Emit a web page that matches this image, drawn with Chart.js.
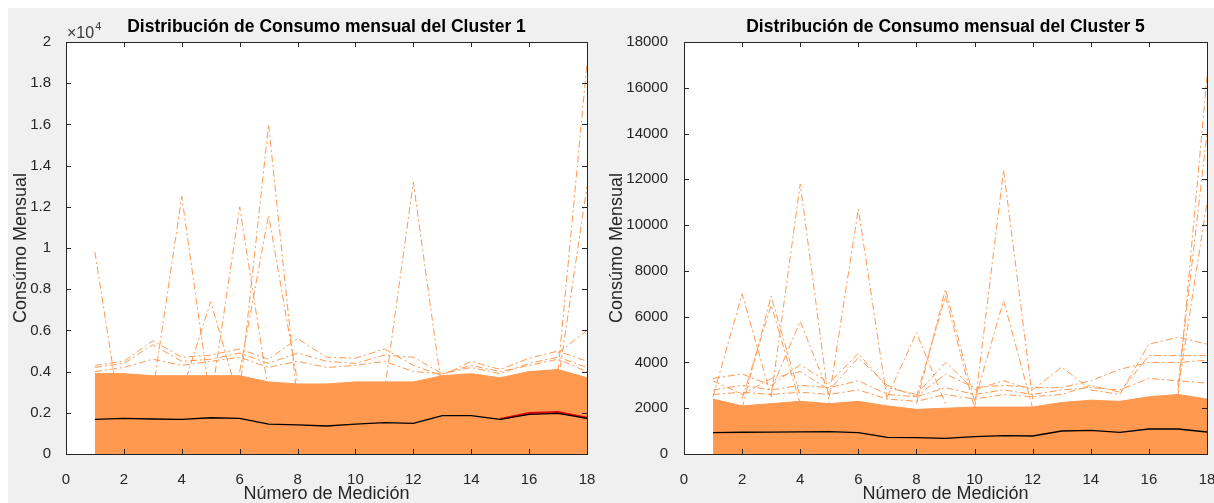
<!DOCTYPE html>
<html>
<head>
<meta charset="utf-8">
<script src="https://cdn.jsdelivr.net/npm/chart.js@4.4.0/dist/chart.umd.min.js"></script>
<style>
  html, body { margin: 0; padding: 0; background: #fff; overflow: hidden; }
  body { width: 1214px; height: 503px; position: relative; }
  #bg { position: absolute; left: 8px; top: 8px; width: 1206px; height: 495px; background: #f0f0f0; }
  #c1 { position: absolute; left: 8px; top: 8px; }
  #c5 { position: absolute; left: 606px; top: 8px; }
</style>
</head>
<body>
<div id="bg"></div>
<canvas id="c1" width="588" height="495"></canvas>
<canvas id="c5" width="608" height="495"></canvas>
<script>
// numero de medicion
const mediciones = [1, 2, 3, 4, 5, 6, 7, 8, 9, 10, 11, 12, 13, 14, 15, 16, 17, 18];
const xTickLabels = ['0', '2', '4', '6', '8', '10', '12', '14', '16', '18'];
const yTickLabels1 = ['0', '0.2', '0.4', '0.6', '0.8', '1', '1.2', '1.4', '1.6', '1.8', '2'];
const yTickLabels5 = ['0', '2000', '4000', '6000', '8000', '10000', '12000', '14000', '16000', '18000'];

// ---- Cluster 1 ----
const media1 = [1680, 1730, 1700, 1680, 1760, 1730, 1455, 1410, 1360, 1455, 1520, 1490, 1860, 1860, 1680, 1925, 1975, 1730];
const rojo1 = [null, null, null, null, null, null, null, null, null, null, null, null, null, null, 1700, 1990, 2040, 1760];
const banda1 = [3900, 3900, 3800, 3800, 3800, 3800, 3500, 3400, 3400, 3500, 3500, 3500, 3800, 3900, 3700, 4000, 4100, 3700];
const sueltas1 = [
  [4300, 4500, 5500, 4700, 4800, 5100, 4600, 5600, 4700, 4650, 5100, 4300, 3800, 4500, 4100, 4650, 5000, 4500],
  [4200, 4400, 5300, 4500, 4600, 4900, 4400, 4900, 4500, 4400, 4800, 4700, 3900, 4200, 3900, 4400, 4700, 4200],
  [4000, 4200, 4600, 4300, 4500, 4700, 4200, 4500, 4200, 4300, 4500, 4000, 3900, 4300, 4000, 4300, 4600, 4000]
];
const picos1 = [
  [9800, 800, null, null, null, null, null, null, null, null, null, null, null, null, null, null, null, null],
  [null, null, 3000, 12500, 2500, null, null, null, null, null, null, null, null, null, null, null, null, null],
  [null, null, null, 3000, 7400, 2500, null, null, null, null, null, null, null, null, null, null, null, null],
  [null, null, null, null, 2500, 12000, 3000, null, null, null, null, null, null, null, null, null, null, null],
  [null, null, null, null, null, 3000, 16000, 2500, null, null, null, null, null, null, null, null, null, null],
  [null, null, null, null, null, 4000, 11600, 3500, null, null, null, null, null, null, null, null, null, null],
  [null, null, null, null, null, null, null, null, null, null, 3000, 13200, 3000, null, null, null, null, null],
  [null, null, null, null, null, null, null, null, null, null, null, null, null, null, null, null, 4000, 19000],
  [null, null, null, null, null, null, null, null, null, null, null, null, null, null, null, null, 3500, 13000],
  [null, null, null, null, null, null, null, null, null, null, null, null, null, null, null, null, 4900, 6000]
];

// ---- Cluster 5 ----
const media5 = [930, 950, 960, 970, 975, 930, 730, 712, 685, 757, 800, 786, 1005, 1035, 948, 1092, 1092, 961];
const banda5 = [2400, 2100, 2200, 2300, 2200, 2300, 2100, 1950, 2000, 2050, 2050, 2050, 2250, 2350, 2300, 2500, 2600, 2400];
const sueltas5 = [
  [3300, 3500, 3000, 3900, 3100, 4400, 2900, 2600, 4000, 2800, 3200, 2800, 3800, 2800, 2600, 4800, 5100, 4800],
  [3200, 2600, 3300, 3600, 2800, 4200, 3000, 2500, 3500, 2900, 3000, 2900, 2900, 3200, 3700, 4000, 4000, 4100],
  [2800, 3000, 2800, 3000, 2900, 3200, 2600, 2500, 2900, 2600, 2800, 2600, 2800, 2900, 2800, 3300, 3200, 3100],
  [2600, 2700, 2600, 2700, 2600, 2800, 2400, 2300, 2600, 2400, 2600, 2500, 2600, 3000, 2700, 4300, 4300, 4300]
];
const picos5 = [
  [2500, 7000, 2500, null, null, null, null, null, null, null, null, null, null, null, null, null, null, null],
  [null, 2000, 6900, 2500, null, null, null, null, null, null, null, null, null, null, null, null, null, null],
  [null, 2400, 6500, 2200, null, null, null, null, null, null, null, null, null, null, null, null, null, null],
  [null, null, 2500, 11800, 2200, null, null, null, null, null, null, null, null, null, null, null, null, null],
  [null, null, 2800, 5800, 2600, null, null, null, null, null, null, null, null, null, null, null, null, null],
  [null, null, null, null, 2500, 10700, 2300, null, null, null, null, null, null, null, null, null, null, null],
  [null, null, null, null, null, null, 2500, 5300, 2200, null, null, null, null, null, null, null, null, null],
  [null, null, null, null, null, null, null, 2200, 7200, 2300, null, null, null, null, null, null, null, null],
  [null, null, null, null, null, null, null, 2500, 6900, 2000, null, null, null, null, null, null, null, null],
  [null, null, null, null, null, null, null, null, null, 2000, 12400, 2400, null, null, null, null, null, null],
  [null, null, null, null, null, null, null, null, null, 2300, 6700, 2000, null, null, null, null, null, null],
  [null, null, null, null, null, null, null, null, null, null, null, null, null, null, null, null, 2500, 16500],
  [null, null, null, null, null, null, null, null, null, null, null, null, null, null, null, null, 3000, 14000],
  [null, null, null, null, null, null, null, null, null, null, null, null, null, null, null, null, 2800, 11000]
];

const NARANJA = 'rgb(255,153,80)';
const DASHDOT = [7, 3, 2, 3];

Chart.defaults.font.family = "'Liberation Sans', Arial, Helvetica, sans-serif";
Chart.defaults.color = '#262626';

function pts(vals) {
  return mediciones.map((m, i) => ({ x: m, y: vals[i] }));
}

// caja estilo matlab con ticks hacia dentro
const cajaPlugin = {
  id: 'caja',
  beforeDraw(chart) {
    const { ctx, chartArea: a } = chart;
    ctx.save();
    ctx.fillStyle = '#fff';
    ctx.fillRect(a.left, a.top, a.right - a.left, a.bottom - a.top);
    ctx.restore();
  },
  afterDraw(chart, args, opts) {
    const { ctx, chartArea: a, scales: { x, y } } = chart;
    ctx.save();
    ctx.strokeStyle = '#262626';
    ctx.lineWidth = 1;
    ctx.strokeRect(Math.round(a.left) + 0.5, Math.round(a.top) + 0.5, Math.round(a.right - a.left), Math.round(a.bottom - a.top));
    ctx.beginPath();
    x.ticks.forEach(t => {
      const px = Math.round(x.getPixelForValue(t.value)) + 0.5;
      ctx.moveTo(px, a.bottom); ctx.lineTo(px, a.bottom - 5);
      ctx.moveTo(px, a.top); ctx.lineTo(px, a.top + 5);
    });
    y.ticks.forEach(t => {
      const py = Math.round(y.getPixelForValue(t.value)) + 0.5;
      ctx.moveTo(a.left, py); ctx.lineTo(a.left + 5, py);
      ctx.moveTo(a.right, py); ctx.lineTo(a.right - 5, py);
    });
    ctx.stroke();
    if (opts.exponente) {
      ctx.fillStyle = '#3a3a3a';
      ctx.textBaseline = 'alphabetic';
      ctx.font = "16px 'Liberation Sans', Arial, sans-serif";
      ctx.fillText('\u00d710', a.left + 1, a.top - 4);
      const w = ctx.measureText('\u00d710').width;
      ctx.font = "11px 'Liberation Sans', Arial, sans-serif";
      ctx.fillText(opts.exponente, a.left + 2 + w, a.top - 12);
    }
    ctx.restore();
  }
};

function crear(id, cfg) {
  const datasets = [];
  datasets.push({ data: pts(cfg.media), borderColor: '#000', borderWidth: 1.3, order: 0 });
  if (cfg.rojo) datasets.push({ data: pts(cfg.rojo), borderColor: '#e00000', borderWidth: 2, order: 1 });
  cfg.picos.forEach(p => datasets.push({ data: pts(p), borderColor: NARANJA, borderWidth: 1, borderDash: DASHDOT, order: 2 }));
  cfg.sueltas.forEach(p => datasets.push({ data: pts(p), borderColor: NARANJA, borderWidth: 1, borderDash: DASHDOT, order: 3 }));
  datasets.push({ data: pts(cfg.banda), borderColor: NARANJA, backgroundColor: NARANJA, borderWidth: 1, fill: 'origin', order: 4 });

  return new Chart(document.getElementById(id), {
    type: 'line',
    data: { datasets },
    plugins: [cajaPlugin],
    options: {
      responsive: false,
      animation: false,
      elements: { point: { radius: 0 }, line: { tension: 0 } },
      layout: { padding: { left: 0, right: cfg.derecha, top: 0, bottom: 0 } },
      plugins: {
        legend: { display: false },
        tooltip: { enabled: false },
        caja: { exponente: cfg.exponente },
        title: {
          display: true,
          text: cfg.titulo,
          fullSize: false,
          color: '#000',
          font: { size: 17.5, weight: 'bold', lineHeight: 1.2 },
          padding: { top: 9, bottom: 4 }
        }
      },
      scales: {
        x: {
          type: 'linear',
          min: 0, max: 18,
          grid: { display: false },
          border: { display: false },
          ticks: {
            stepSize: 2,
            padding: 9,
            maxRotation: 0,
            font: { size: 15 },
            callback: (v, i) => xTickLabels[i]
          },
          title: { display: true, text: 'Número de Medición', font: { size: 18, lineHeight: 1 }, padding: { top: 0, bottom: 0 } },
          afterFit: s => { s.height = 49; s.paddingLeft = 0; s.paddingRight = 0; }
        },
        y: {
          min: 0, max: cfg.ymax,
          grid: { display: false },
          border: { display: false },
          ticks: {
            stepSize: 2000,
            padding: cfg.tickPad,
            font: { size: 15 },
            callback: (v, i) => cfg.yLabels[i]
          },
          title: { display: true, text: 'Consúmo Mensual', font: { size: 18, lineHeight: 1 }, padding: { top: cfg.ytitPad, bottom: 0 } },
          afterFit: s => { s.width = cfg.yAncho; s.paddingTop = 0; s.paddingBottom = 0; }
        }
      }
    }
  });
}

crear('c1', {
  titulo: 'Distribución de Consumo mensual del Cluster 1',
  media: media1, rojo: rojo1, banda: banda1, sueltas: sueltas1, picos: picos1,
  ymax: 20000, yLabels: yTickLabels1, yAncho: 58, derecha: 9, tickPad: 7, ytitPad: 4, exponente: '4'
});
crear('c5', {
  titulo: 'Distribución de Consumo mensual del Cluster 5',
  media: media5, rojo: null, banda: banda5, sueltas: sueltas5, picos: picos5,
  ymax: 18000, yLabels: yTickLabels5, yAncho: 78, derecha: 7, tickPad: 8, ytitPad: 2, exponente: null
});
</script>
</body>
</html>
